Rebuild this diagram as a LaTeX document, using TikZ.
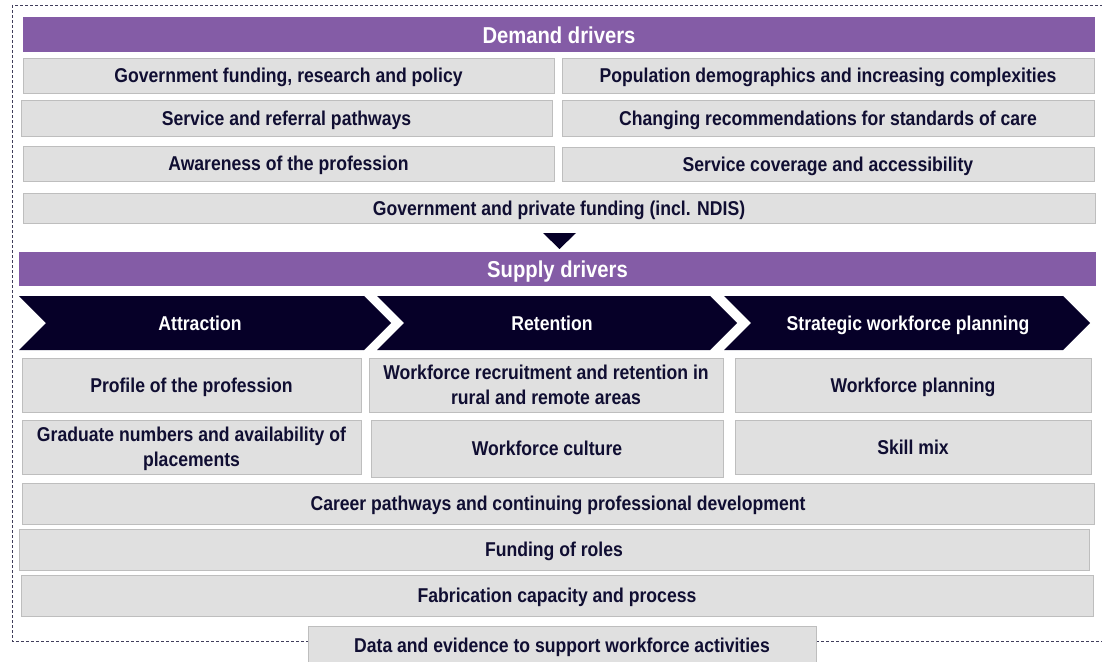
\documentclass[tikz,border=0pt]{standalone}
\usepackage{fontspec}
\setmainfont{Liberation Sans}[FakeStretch=0.88]
\definecolor{hdrpurple}{RGB}{132,92,166}
\definecolor{navy}{RGB}{6,0,40}
\definecolor{ink}{RGB}{16,14,50}
\definecolor{cellfill}{RGB}{224,224,224}
\definecolor{cellline}{RGB}{190,190,190}
\tikzset{
  cell/.style={fill=cellfill, draw=cellline, line width=0.9pt, inner sep=0pt,
    text depth=0pt, text=ink, font=\fontsize{20}{25}\selectfont\bfseries, align=center},
  header/.style={fill=hdrpurple, draw=none, inner sep=0pt, text=white, text depth=0pt,
    font=\fontsize{23}{27}\selectfont\bfseries},
  chevlabel/.style={text=white, inner sep=0pt, text depth=0pt,
    font=\fontsize{20}{25}\selectfont\bfseries},
  chevron/.style={fill=navy, draw=none},
  frame/.style={draw=ink!80, line width=0.8pt, dash pattern=on 3pt off 2pt}
}
\begin{document}
\begin{tikzpicture}[x=1pt, y=-1pt]
\useasboundingbox (0,0) rectangle (1102,661);
\clip (0,0) rectangle (1102,661);
\fill[white] (0,0) rectangle (1102,661);

% dashed outline around both driver groups
\draw[frame] (12,5) rectangle (1104,641);

% demand drivers
\node[header, minimum width=1072pt, minimum height=35pt] (demand) at (559,34.5) {\raisebox{-1pt}{Demand drivers}};
\node[cell, minimum width=531pt, minimum height=35pt] (d1) at (288.5,75.5) {Government funding, research and policy};
\node[cell, minimum width=532pt, minimum height=35pt] (d2) at (828,75.5) {Population demographics and increasing complexities};
\node[cell, minimum width=531pt, minimum height=36pt] (d3) at (286.5,118) {Service and referral pathways};
\node[cell, minimum width=532pt, minimum height=36pt] (d4) at (828,118) {Changing recommendations for standards of care};
\node[cell, minimum width=531pt, minimum height=35pt] (d5) at (288.5,163.5) {Awareness of the profession};
\node[cell, minimum width=532pt, minimum height=34pt] (d6) at (828,164) {Service coverage and accessibility};
\node[cell, minimum width=1072pt, minimum height=30pt] (d7) at (559,208) {Government and private funding (incl. NDIS)};

% downward pointer
\fill[navy] (543,233) -- (576,233) -- (559.5,249) -- cycle;

% supply drivers
\node[header, minimum width=1077pt, minimum height=34pt] (supply) at (557.5,269) {Supply drivers};

% chevron banner
\fill[chevron] (19,296) -- (364,296) -- (391,323) -- (364,350) -- (19,350) -- (46,323) -- cycle;
\fill[chevron] (377,296) -- (710,296) -- (737,323) -- (710,350) -- (377,350) -- (404,323) -- cycle;
\fill[chevron] (724,296) -- (1063,296) -- (1090,323) -- (1063,350) -- (724,350) -- (751,323) -- cycle;
\node[chevlabel] (attr) at (200,323) {Attraction};
\node[chevlabel] (ret) at (552,323) {Retention};
\node[chevlabel] (swp) at (908,323) {Strategic workforce planning};

% supply cells
\node[cell, minimum width=339pt, minimum height=54pt] (s1) at (191.5,385) {Profile of the profession};
\node[cell, minimum width=354pt, minimum height=54pt] (s2) at (546,385) {Workforce recruitment and retention in\\rural and remote areas};
\node[cell, minimum width=356pt, minimum height=54pt] (s3) at (913,385) {Workforce planning};
\node[cell, minimum width=339pt, minimum height=54pt] (s4) at (191.5,447) {Graduate numbers and availability of\\placements};
\node[cell, minimum width=352pt, minimum height=57pt] (s5) at (547,448.5) {Workforce culture};
\node[cell, minimum width=356pt, minimum height=54pt] (s6) at (913,447) {Skill mix};
\node[cell, minimum width=1072pt, minimum height=41pt] (s7) at (558,503.5) {Career pathways and continuing professional development};
\node[cell, minimum width=1070pt, minimum height=41pt] (s8) at (554,549.5) {Funding of roles};
\node[cell, minimum width=1072pt, minimum height=41pt] (s9) at (557,595.5) {Fabrication capacity and process};

% enabler below the outline
\node[cell, minimum width=508pt, minimum height=40pt] (data) at (562,646) {\raisebox{2pt}{Data and evidence to support workforce activities}};
\end{tikzpicture}
\end{document}
